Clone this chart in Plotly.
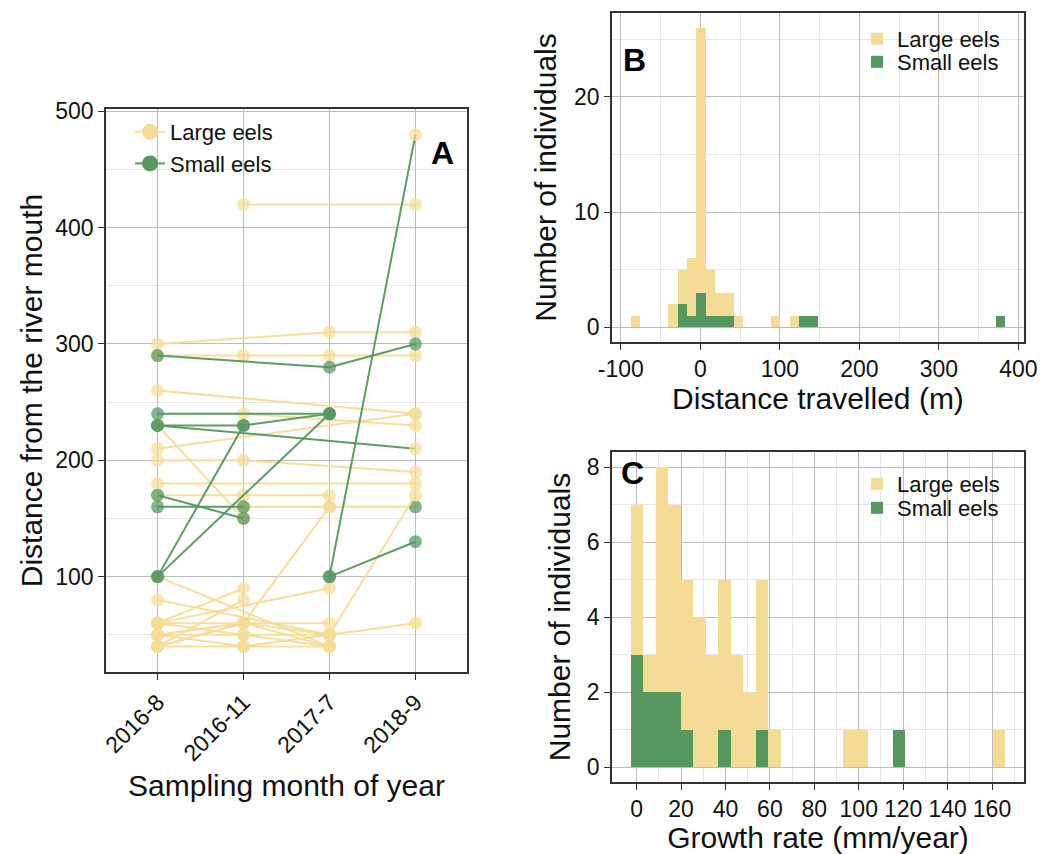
import plotly.graph_objects as go

# ---------------- data ----------------
months = ["2016-8", "2016-11", "2017-7", "2018-9"]

# Panel A: distance from river mouth of each recaptured eel per sampling month (None = not caught)
large_tracks = [
    [None, 420, None, 420],
    [300, None, 310, 310],
    [290, 290, 290, 290],
    [260, None, None, 240],
    [None, 240, None, 230],
    [210, None, None, 240],
    [230, 150, None, None],
    [200, 200, None, 190],
    [180, None, None, 180],
    [170, 170, 170, None],
    [None, 160, 160, 160],
    [40, 60, 160, None],
    [100, None, 40, None],
    [80, None, 50, None],
    [60, 90, None, None],
    [40, 80, None, None],
    [60, None, 90, None],
    [60, 60, 60, None],
    [50, 50, 50, 60],
    [40, 40, 40, None],
    [60, 50, 40, None],
    [50, 40, 50, 170],
    [40, 60, 50, None],
    [50, 60, 40, None],
]
large_classes = ["LLLL"] * 10 + ["LLLS"] + ["LLLL"] * 13

small_tracks = [
    [240, None, 240, None],
    [230, 230, None, None],
    [100, 230, 240, None],
    [100, None, 240, None],
    [230, None, None, 210],
    [290, None, 280, 300],
    [170, 150, None, None],
    [160, 160, None, None],
    [None, None, 100, 480],
    [None, None, 100, 130],
]
small_classes = ["SSSS", "SSSS", "SSSS", "SSSS", "SSSL", "SSSS", "SSSS", "SSSS", "SSSL", "SSSS"]

# Panel B: distance travelled histogram (40 bins)
dist_min, dist_max, dist_nbins = -87.5, 383.3, 40
dist_small = [0, 0, 0, 0, 0, 2, 1, 3, 1, 1, 1, 0, 0, 0, 0, 0, 0, 0, 1, 1,
              0, 0, 0, 0, 0, 0, 0, 0, 0, 0, 0, 0, 0, 0, 0, 0, 0, 0, 0, 1]
dist_large = [1, 0, 0, 0, 2, 3, 5, 23, 4, 2, 2, 1, 0, 0, 0, 1, 0, 1, 0, 0,
              0, 0, 0, 0, 0, 0, 0, 0, 0, 0, 0, 0, 0, 0, 0, 0, 0, 0, 0, 0]
dist_ticks = [-100, 0, 100, 200, 300, 400]
dist_ticklabels = ["-100", "0", "100", "200", "300", "400"]

# Panel C: growth rate histogram (30 bins)
grow_min, grow_max, grow_nbins = -2.69, 166.0, 30
grow_small = [3, 2, 2, 2, 1, 0, 0, 1, 0, 0, 1, 0, 0, 0, 0, 0, 0, 0, 0, 0,
              0, 1, 0, 0, 0, 0, 0, 0, 0, 0]
grow_large = [4, 1, 6, 5, 4, 4, 3, 4, 3, 2, 4, 1, 0, 0, 0, 0, 0, 1, 1, 0,
              0, 0, 0, 0, 0, 0, 0, 0, 0, 1]

# ---------------- style ----------------
YEL = "#F5DC96"
GRN = "#55975F"
MARK = {"L": "rgba(245,220,150,0.72)", "S": "rgba(85,151,95,0.72)"}
LINE = {"L": "rgba(245,220,150,0.95)", "S": "rgba(85,151,95,0.95)"}
FONT = "Liberation Sans, Arial, sans-serif"
TICK = 23
TITLE = 30
LEG = 22
AXC = "#333333"

W, H = 1048, 846   # page body has an 8px margin
OFF = 8


def px(xp):
    return (xp - OFF) / W


def py(yp):
    return 1 - (yp - OFF) / H


fig = go.Figure()


def add_tracks(tracks, classes, grp):
    for vals, cls in zip(tracks, classes):
        xs = [m for m, v in zip(months, vals) if v is not None]
        ys = [v for v in vals if v is not None]
        cs = [MARK[c] for c, v in zip(cls, vals) if v is not None]
        fig.add_trace(go.Scatter(
            x=xs, y=ys, mode="lines+markers",
            line=dict(color=LINE[grp], width=2),
            marker=dict(size=13, color=cs, line=dict(width=0)),
            showlegend=False, hoverinfo="skip", xaxis="x", yaxis="y"))


add_tracks(large_tracks, large_classes, "L")
add_tracks(small_tracks, small_classes, "S")

# legend entries for panel A
for name, grp in [("Large eels", "L"), ("Small eels", "S")]:
    fig.add_trace(go.Scatter(
        x=[None], y=[None], mode="lines+markers", name=name,
        line=dict(color=LINE[grp], width=2),
        marker=dict(size=20, color=YEL if grp == "L" else GRN),
        legend="legend", xaxis="x", yaxis="y"))


def hist_bars(vmin, vmax, n, small, large, xa, ya, leg_large, leg_small):
    w = (vmax - vmin) / n
    centers = [vmin + w * (i + 0.5) for i in range(n)]
    fig.add_trace(go.Bar(x=centers, y=small, width=[w] * n, name="Small eels",
                         marker=dict(color=GRN, line=dict(width=0)),
                         legend=leg_small, xaxis=xa, yaxis=ya))
    fig.add_trace(go.Bar(x=centers, y=large, width=[w] * n, name="Large eels",
                         marker=dict(color=YEL, line=dict(width=0)),
                         legend=leg_large, xaxis=xa, yaxis=ya))


hist_bars(dist_min, dist_max, dist_nbins, dist_small, dist_large, "x2", "y2", "legend2", "legend3")
hist_bars(grow_min, grow_max, grow_nbins, grow_small, grow_large, "x3", "y3", "legend4", "legend5")


def ax(**kw):
    base = dict(showline=True, mirror=True, linecolor=AXC, linewidth=1.5,
                ticks="outside", ticklen=6, tickwidth=1.3, tickcolor=AXC,
                tickfont=dict(size=TICK, color="#111", family=FONT),
                showgrid=True, gridcolor="#BDBDBD", gridwidth=1, automargin=False,
                zeroline=False, title_font=dict(size=TITLE, color="#111", family=FONT))
    base.update(kw)
    return base


minor_grid = dict(showgrid=True, gridcolor="#E6E6E6", gridwidth=1, ticks="")
leg_common = dict(xanchor="left", yanchor="top", bgcolor="rgba(0,0,0,0)",
                  font=dict(size=LEG, color="#111", family=FONT), traceorder="normal")

fig.update_layout(
    width=W, height=H, margin=dict(l=0, r=0, t=0, b=0, autoexpand=False),
    paper_bgcolor="white", plot_bgcolor="white",
    font=dict(family=FONT, color="#111"),
    barmode="stack", bargap=0,
    xaxis=ax(domain=[px(106), px(467)], anchor="y", type="category",
             categoryorder="array", categoryarray=months, range=[-0.6, 3.6],
             tickangle=-45, title=dict(text="Sampling month of year", standoff=10)),
    yaxis=ax(domain=[py(672), py(109)], anchor="x", range=[18, 502],
             tickvals=[100, 200, 300, 400, 500],
             minor=dict(tickvals=[50, 150, 250, 350, 450], **minor_grid),
             title=dict(text="Distance from the river mouth", standoff=4)),
    xaxis2=ax(domain=[px(612), px(1024)], anchor="y2", range=[-111, 407],
              tickvals=dist_ticks, ticktext=dist_ticklabels,
              minor=dict(tickvals=[-50, 50, 150, 250, 350], **minor_grid),
              title=dict(text="Distance travelled (m)", standoff=6)),
    yaxis2=ax(domain=[py(342), py(13)], anchor="x2", range=[-1.3, 27.3],
              tickvals=[0, 10, 20],
              minor=dict(tickvals=[5, 15, 25], **minor_grid),
              title=dict(text="Number of individuals", standoff=9)),
    xaxis3=ax(domain=[px(612), px(1024)], anchor="y3", range=[-11.1, 174.4],
              tickvals=list(range(0, 161, 20)),
              minor=dict(tickvals=list(range(10, 171, 20)), **minor_grid),
              title=dict(text="Growth rate (mm/year)", standoff=1)),
    yaxis3=ax(domain=[py(782), py(452)], anchor="x3", range=[-0.4, 8.4],
              tickvals=[0, 2, 4, 6, 8],
              minor=dict(tickvals=[1, 3, 5, 7], **minor_grid),
              title=dict(text="Number of individuals", standoff=7)),
    legend=dict(x=px(130), y=py(111), itemsizing="trace", tracegroupgap=0, **leg_common),
    legend2=dict(x=px(857), y=py(18), **leg_common),
    legend3=dict(x=px(857), y=py(41), **leg_common),
    legend4=dict(x=px(857), y=py(463), **leg_common),
    legend5=dict(x=px(857), y=py(487), **leg_common),
    annotations=[
        dict(text="<b>A</b>", x=px(442), y=py(133), xref="paper", yref="paper",
             showarrow=False, font=dict(size=32, color="black", family=FONT)),
        dict(text="<b>B</b>", x=px(634), y=py(40), xref="paper", yref="paper",
             showarrow=False, font=dict(size=32, color="black", family=FONT)),
        dict(text="<b>C</b>", x=px(632), y=py(473), xref="paper", yref="paper",
             showarrow=False, font=dict(size=32, color="black", family=FONT)),
    ],
)

fig.write_html("out.html")
